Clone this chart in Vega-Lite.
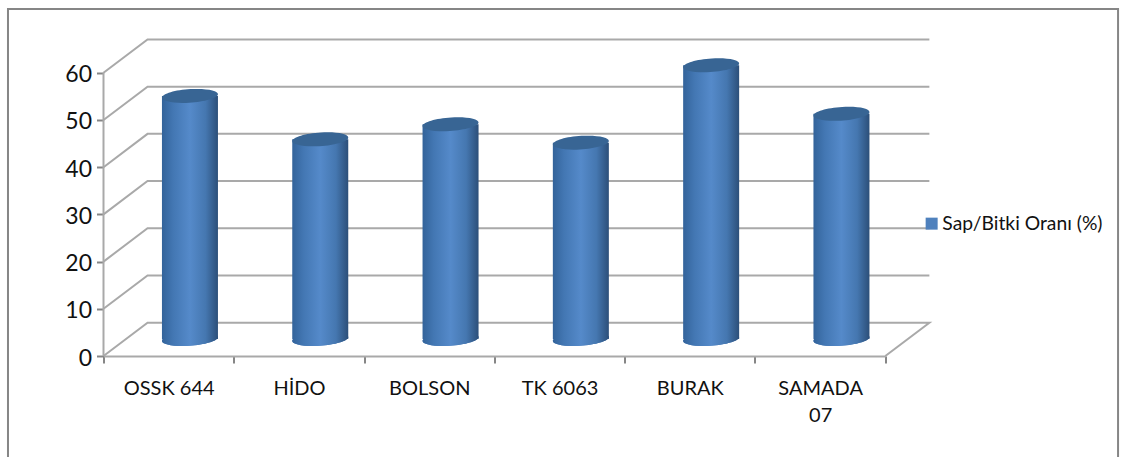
{
  "$schema": "https://vega.github.io/schema/vega-lite/v6.json",
  "width": 829,
  "height": 317,
  "autosize": {"type": "none"},
  "padding": {"left": 103.5, "top": 39, "right": 188.5, "bottom": 101},
  "background": "white",
  "config": {"view": {"stroke": null}, "font": "Lato"},
  "datasets": {
    "cultivars": [
      {"cultivar": "OSSK 644", "ratio": 51.5, "series": "Sap/Bitki Oranı (%)"},
      {"cultivar": "HİDO", "ratio": 42.3, "series": "Sap/Bitki Oranı (%)"},
      {"cultivar": "BOLSON", "ratio": 45.5, "series": "Sap/Bitki Oranı (%)"},
      {"cultivar": "TK 6063", "ratio": 41.6, "series": "Sap/Bitki Oranı (%)"},
      {"cultivar": "BURAK", "ratio": 58.0, "series": "Sap/Bitki Oranı (%)"},
      {"cultivar": "SAMADA 07", "ratio": 47.7, "series": "Sap/Bitki Oranı (%)"}
    ],
    "walls": [
      {"line": "g0", "pos": 0, "val": 0, "seq": 1},
      {"line": "g0", "pos": 0.338, "val": 7.06, "seq": 2},
      {"line": "g0", "pos": 6.338, "val": 7.06, "seq": 3},
      {"line": "g0", "pos": 6, "val": 0, "seq": 4},
      {"line": "g10", "pos": 0, "val": 10, "seq": 1},
      {"line": "g10", "pos": 0.338, "val": 17.06, "seq": 2},
      {"line": "g10", "pos": 6.338, "val": 17.06, "seq": 3},
      {"line": "g20", "pos": 0, "val": 20, "seq": 1},
      {"line": "g20", "pos": 0.338, "val": 27.06, "seq": 2},
      {"line": "g20", "pos": 6.338, "val": 27.06, "seq": 3},
      {"line": "g30", "pos": 0, "val": 30, "seq": 1},
      {"line": "g30", "pos": 0.338, "val": 37.06, "seq": 2},
      {"line": "g30", "pos": 6.338, "val": 37.06, "seq": 3},
      {"line": "g40", "pos": 0, "val": 40, "seq": 1},
      {"line": "g40", "pos": 0.338, "val": 47.06, "seq": 2},
      {"line": "g40", "pos": 6.338, "val": 47.06, "seq": 3},
      {"line": "g50", "pos": 0, "val": 50, "seq": 1},
      {"line": "g50", "pos": 0.338, "val": 57.06, "seq": 2},
      {"line": "g50", "pos": 6.338, "val": 57.06, "seq": 3},
      {"line": "g60", "pos": 0, "val": 60, "seq": 1},
      {"line": "g60", "pos": 0.338, "val": 67.06, "seq": 2},
      {"line": "g60", "pos": 6.338, "val": 67.06, "seq": 3},
      {"line": "axis", "pos": 0, "val": 0, "seq": 1},
      {"line": "axis", "pos": 0, "val": 60, "seq": 2}
    ],
    "frame": [
      {"left": -0.733, "right": 7.786, "top": 73.5, "bottom": -30}
    ]
  },
  "encoding": {
    "y": {
      "type": "quantitative",
      "scale": {"domain": [0, 67.16]},
      "axis": {
        "title": null,
        "values": [0, 10, 20, 30, 40, 50, 60],
        "domain": false,
        "grid": false,
        "labelFont": "Lato",
        "labelFontSize": 23,
        "labelColor": "#111111",
        "labelPadding": 5,
        "labelOffset": 2,
        "tickSize": 7,
        "tickColor": "#868686",
        "tickWidth": 2
      }
    }
  },
  "layer": [
    {
      "data": {"name": "frame"},
      "mark": {"type": "rect", "fill": "transparent", "stroke": "#868686", "strokeWidth": 2, "clip": false},
      "encoding": {
        "x": {"field": "left", "type": "quantitative", "axis": null, "scale": {"domain": [0, 6.362]}},
        "x2": {"field": "right"},
        "y": {"field": "top"},
        "y2": {"field": "bottom"}
      }
    },
    {
      "data": {"name": "walls"},
      "mark": {"type": "line", "stroke": "#a9a9a9", "strokeWidth": 2},
      "encoding": {
        "x": {"field": "pos", "type": "quantitative", "axis": null, "scale": {"domain": [0, 6.362]}},
        "y": {"field": "val"},
        "detail": {"field": "line"},
        "order": {"field": "seq"}
      }
    },
    {
      "data": {"name": "cultivars"},
      "encoding": {
        "x": {
          "field": "cultivar",
          "type": "nominal",
          "sort": null,
          "scale": {"type": "band", "range": [0, 781.8], "paddingInner": 0, "paddingOuter": 0},
          "axis": {
            "title": null,
            "labelAngle": 0,
            "labelFont": "Lato",
            "labelFontSize": 20,
            "labelColor": "#111111",
            "labelPadding": 15,
            "labelLineHeight": 27,
            "labelExpr": "datum.label == 'SAMADA 07' ? ['SAMADA', '07'] : datum.label",
            "tickBand": "extent",
            "tickSize": 7,
            "tickColor": "#868686",
            "tickWidth": 2,
            "domainColor": "#a9a9a9",
            "domainWidth": 2,
            "grid": false
          }
        }
      },
      "layer": [
        {
          "mark": {"type": "point", "filled": true, "opacity": 1, "xOffset": 21.3, "yOffset": -17, "size": 3136, "shape": "M-1,0.06A1,0.24 -4 1,1 1,-0.06A1,0.24 -4 1,1 -1,0.06Z"},
          "encoding": {
            "y": {"datum": 0},
            "color": {
              "field": "series",
              "type": "nominal",
              "scale": {"range": ["#4f81bd"]},
              "legend": {
                "orient": "none",
                "legendX": 818.5,
                "legendY": 175,
                "title": null,
                "symbolType": "square",
                "symbolSize": 144,
                "symbolOpacity": 1,
                "labelFont": "Lato",
                "labelFontSize": 19.3,
                "labelColor": "#111111",
                "labelOffset": 1,
                "labelLimit": 300
              }
            }
          }
        },
        {
          "mark": {
            "type": "bar",
            "width": 56,
            "xOffset": 21.3,
            "yOffset": -17,
            "color": {
              "x1": 0, "x2": 1, "y1": 0, "y2": 0,
              "gradient": "linear",
              "stops": [
                {"offset": 0, "color": "#33639a"},
                {"offset": 0.2, "color": "#4377b3"},
                {"offset": 0.5, "color": "#558aca"},
                {"offset": 0.78, "color": "#4577b0"},
                {"offset": 1, "color": "#2c4f79"}
              ]
            }
          },
          "encoding": {
            "y": {"field": "ratio"}
          }
        },
        {
          "mark": {
            "type": "point",
            "filled": true,
            "opacity": 1,
            "xOffset": 21.3,
            "yOffset": -17,
            "size": 3136,
            "shape": "M-1,0.06A1,0.24 -4 1,1 1,-0.06A1,0.24 -4 1,1 -1,0.06Z",
            "color": {
              "x1": 0, "x2": 1, "y1": 0, "y2": 0,
              "gradient": "linear",
              "stops": [
                {"offset": 0, "color": "#33639a"},
                {"offset": 0.2, "color": "#4377b3"},
                {"offset": 0.5, "color": "#558aca"},
                {"offset": 0.78, "color": "#4577b0"},
                {"offset": 1, "color": "#2c4f79"}
              ]
            }
          },
          "encoding": {
            "y": {"datum": 0}
          }
        },
        {
          "mark": {
            "type": "point",
            "filled": true,
            "opacity": 1,
            "xOffset": 21.3,
            "yOffset": -17,
            "size": 3136,
            "shape": "M-1,0.06A1,0.24 -4 1,1 1,-0.06A1,0.24 -4 1,1 -1,0.06Z",
            "color": "#386594"
          },
          "encoding": {
            "y": {"field": "ratio"}
          }
        }
      ]
    }
  ],
  "resolve": {"scale": {"x": "independent"}}
}
